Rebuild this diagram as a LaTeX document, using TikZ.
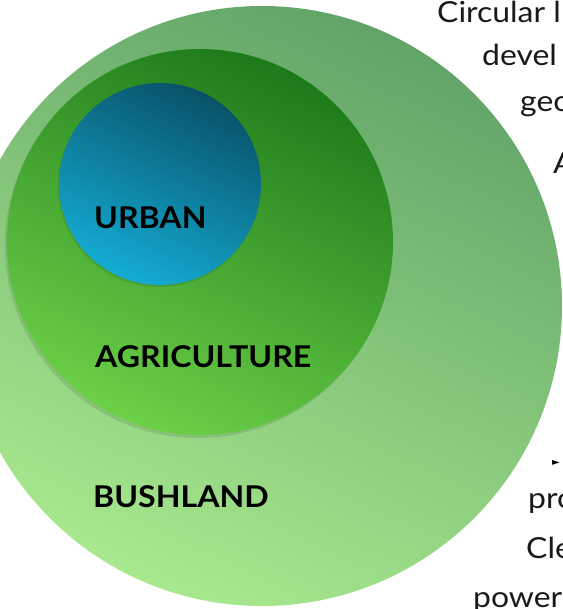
\documentclass[tikz,border=0pt]{standalone}
\usepackage{fontspec}
\setmainfont{Lato}
\newfontfamily\notefont{Lato}[FakeStretch=1.1]
\newfontfamily\zonefont{Lato}[FakeStretch=1.07]
\newfontfamily\symfont{DejaVu Sans}
\usetikzlibrary{positioning}
\definecolor{bushtop}{RGB}{98,164,104}
\definecolor{bushbot}{RGB}{168,232,142}
\definecolor{agritop}{RGB}{28,122,26}
\definecolor{agribot}{RGB}{108,208,72}
\definecolor{urbtop}{RGB}{8,82,104}
\definecolor{urbbot}{RGB}{20,172,212}
\tikzset{
  zone/.style={circle,inner sep=0pt,outer sep=0pt},
  lbl/.style={anchor=base west,inner sep=0pt,font=\zonefont\bfseries\fontsize{30}{30}\selectfont},
  side/.style={anchor=base west,inner sep=0pt,text=black!90,font=\notefont\fontsize{29}{29}\selectfont},
}

\begin{document}
\begin{tikzpicture}[x=1pt,y=-1pt]
  \useasboundingbox (0,0) rectangle (562,609);
  % land zones, outermost first
  \node[zone,minimum size=600pt,top color=bushtop,bottom color=bushbot,shading angle=-25] (bush) at (262,306) {};
  \fill[black,opacity=0.1] (198,245) circle (193);
  \node[zone,minimum size=386pt,top color=agritop,bottom color=agribot,shading angle=-25] (agri) at (200,242) {};
  \fill[black,opacity=0.1] (159,186) circle (101);
  \node[zone,minimum size=202pt,top color=urbtop,bottom color=urbbot,shading angle=-25] (urban) at (160,184) {};
  % zone names
  \node[lbl] (urbanlbl) at (94,229) {URBAN};
  \node[lbl] (agrilbl) at (95,367) {AGRICULTURE};
  \node[lbl] (bushlbl) at (93,507) {BUSHLAND};
  % notes on the right
  \node[side] (n1) at (437,23) {Circular l};
  \node[side] (n2) at (482,66) {devel};
  \node[side] (n3) at (520,112) {geo};
  \node[side] (n4) at (553,174) {A};
  \node[anchor=west,inner sep=0pt,font=\symfont\fontsize{10}{10}\selectfont] (n5) at (552,463) {►};
  \node[side] (n6) at (528,508) {pro};
  \node[side] (n7) at (526,558) {Cle};
  \node[side] (n8) at (473,607) {power};
\end{tikzpicture}
\end{document}
